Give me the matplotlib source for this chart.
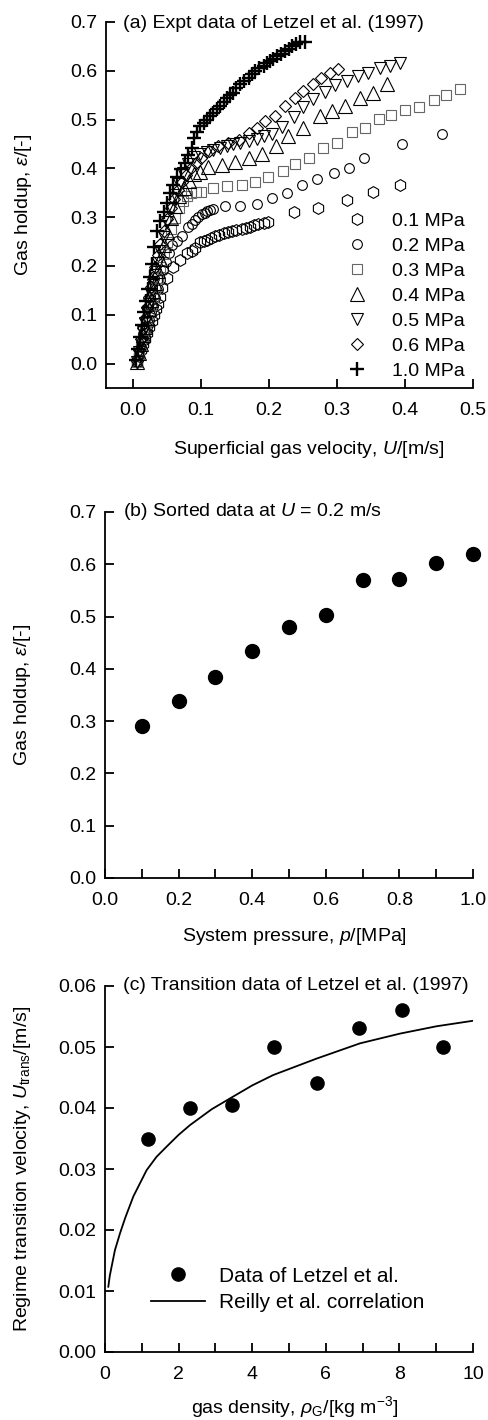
import matplotlib
matplotlib.use('Agg')
import matplotlib.pyplot as plt
from matplotlib.ticker import MultipleLocator, FormatStrFormatter

plt.rcParams['font.family'] = ['Liberation Sans', 'DejaVu Sans']
plt.rcParams['mathtext.fontset'] = 'custom'
plt.rcParams['mathtext.rm'] = 'Liberation Sans'
plt.rcParams['mathtext.it'] = 'Liberation Sans:italic'
plt.rcParams['font.size'] = 14

# (a) gas holdup vs superficial gas velocity, Letzel et al. (1997)
U_01 = [0.006, 0.009, 0.012, 0.015, 0.018, 0.021, 0.024, 0.027, 0.030, 0.033, 0.036, 0.039, 0.042,
        0.0496, 0.059, 0.069, 0.079, 0.086, 0.091, 0.0985, 0.104, 0.108, 0.115,
        0.121, 0.127, 0.133, 0.139, 0.145, 0.152, 0.160, 0.166, 0.172, 0.178,
        0.184, 0.192, 0.199, 0.236, 0.272, 0.314, 0.353, 0.393]
eps_01 = [0.004, 0.016, 0.028, 0.040, 0.051, 0.063, 0.075, 0.087, 0.099, 0.111, 0.123, 0.136, 0.154,
          0.176, 0.198, 0.213, 0.226, 0.231, 0.236, 0.250, 0.252, 0.254, 0.258,
          0.261, 0.264, 0.267, 0.270, 0.272, 0.273, 0.275, 0.278, 0.280, 0.283,
          0.286, 0.288, 0.291, 0.311, 0.318, 0.335, 0.352, 0.366]

U_02 = [0.005, 0.008, 0.011, 0.014, 0.017, 0.020, 0.023, 0.026, 0.029, 0.032, 0.036, 0.040, 0.044, 0.048, 0.052, 0.057,
        0.064, 0.072, 0.081, 0.086, 0.091, 0.096, 0.101, 0.105, 0.109, 0.113,
        0.117, 0.135, 0.157, 0.182, 0.204, 0.226, 0.248, 0.270, 0.295, 0.317,
        0.340, 0.396, 0.454]
eps_02 = [0.004, 0.018, 0.033, 0.047, 0.062, 0.076, 0.090, 0.105, 0.119, 0.134, 0.153, 0.172, 0.191, 0.209, 0.226, 0.243,
          0.252, 0.262, 0.280, 0.287, 0.294, 0.300, 0.306, 0.309, 0.312, 0.315,
          0.317, 0.322, 0.323, 0.328, 0.339, 0.350, 0.366, 0.378, 0.390, 0.401,
          0.422, 0.450, 0.471]

U_03 = [0.005, 0.008, 0.011, 0.014, 0.017, 0.020, 0.023, 0.026, 0.029, 0.032,
        0.036, 0.040, 0.045, 0.050, 0.055, 0.061, 0.067, 0.073, 0.079, 0.085,
        0.092, 0.100, 0.118, 0.138, 0.160, 0.179, 0.199, 0.220, 0.238, 0.259, 0.280,
        0.300, 0.322, 0.341, 0.361, 0.380, 0.400, 0.420, 0.442, 0.461, 0.481]
eps_03 = [0.004, 0.020, 0.037, 0.054, 0.070, 0.087, 0.103, 0.120, 0.136, 0.153,
          0.175, 0.197, 0.224, 0.250, 0.275, 0.298, 0.318, 0.333, 0.343, 0.349,
          0.351, 0.352, 0.359, 0.363, 0.366, 0.373, 0.383, 0.394, 0.409, 0.421, 0.442,
          0.452, 0.474, 0.483, 0.501, 0.510, 0.519, 0.526, 0.541, 0.551, 0.563]

U_04 = [0.005, 0.008, 0.011, 0.014, 0.017, 0.020, 0.023, 0.026, 0.029, 0.032,
        0.036, 0.040, 0.045, 0.050, 0.056, 0.062, 0.068, 0.075, 0.082, 0.090,
        0.098, 0.110, 0.130, 0.150, 0.170, 0.190, 0.210, 0.228, 0.250, 0.275,
        0.292, 0.312, 0.334, 0.353, 0.373]
eps_04 = [0.004, 0.022, 0.040, 0.058, 0.076, 0.094, 0.112, 0.130, 0.148, 0.166,
          0.190, 0.214, 0.243, 0.270, 0.298, 0.322, 0.343, 0.360, 0.375, 0.388,
          0.393, 0.402, 0.407, 0.414, 0.421, 0.430, 0.445, 0.467, 0.483, 0.507,
          0.517, 0.528, 0.545, 0.555, 0.572]

U_05 = [0.005, 0.008, 0.011, 0.014, 0.017, 0.020, 0.023, 0.026, 0.029, 0.032,
        0.036, 0.040, 0.045, 0.050, 0.055, 0.061, 0.067, 0.074, 0.081, 0.089,
        0.0985, 0.108, 0.118, 0.128, 0.138, 0.147, 0.157, 0.170, 0.182, 0.193,
        0.204, 0.219, 0.236, 0.250, 0.265, 0.282, 0.297, 0.314, 0.331, 0.346,
        0.363, 0.378, 0.393]
eps_05 = [0.004, 0.024, 0.044, 0.064, 0.083, 0.103, 0.122, 0.142, 0.161, 0.181,
          0.206, 0.231, 0.260, 0.290, 0.318, 0.345, 0.368, 0.390, 0.408, 0.424,
          0.430, 0.434, 0.438, 0.441, 0.445, 0.449, 0.453, 0.456, 0.460, 0.466,
          0.470, 0.485, 0.505, 0.525, 0.542, 0.556, 0.570, 0.579, 0.589, 0.596,
          0.606, 0.610, 0.617]

U_06 = [0.005, 0.008, 0.011, 0.014, 0.017, 0.020, 0.023, 0.026, 0.029, 0.032,
        0.036, 0.040, 0.045, 0.050, 0.055, 0.060, 0.066, 0.072, 0.078, 0.085, 0.092,
        0.100, 0.112, 0.125, 0.140, 0.155, 0.170, 0.182, 0.194, 0.209, 0.224,
        0.238, 0.250, 0.265, 0.277, 0.290, 0.302]
eps_06 = [0.005, 0.027, 0.050, 0.072, 0.094, 0.115, 0.136, 0.157, 0.178, 0.198,
          0.222, 0.246, 0.272, 0.296, 0.318, 0.338, 0.356, 0.372, 0.386, 0.400, 0.412,
          0.422, 0.435, 0.445, 0.452, 0.459, 0.472, 0.483, 0.497, 0.507, 0.528,
          0.545, 0.558, 0.572, 0.586, 0.595, 0.603]

U_10 = [0.004, 0.007, 0.010, 0.013, 0.016, 0.019, 0.022, 0.025, 0.028, 0.031,
        0.035, 0.040, 0.045, 0.050, 0.054, 0.059, 0.064, 0.070, 0.076, 0.081,
        0.086, 0.089, 0.094, 0.099, 0.104, 0.108, 0.113, 0.118, 0.123, 0.128,
        0.133, 0.138, 0.143, 0.147, 0.152, 0.157, 0.163, 0.170, 0.175, 0.179,
        0.185, 0.192, 0.197, 0.201, 0.206, 0.211, 0.218, 0.224, 0.229, 0.233,
        0.240, 0.246, 0.253]
eps_10 = [0.008, 0.030, 0.055, 0.080, 0.105, 0.128, 0.152, 0.178, 0.205, 0.238,
          0.272, 0.292, 0.310, 0.330, 0.349, 0.366, 0.383, 0.398, 0.411, 0.427,
          0.442, 0.462, 0.474, 0.486, 0.493, 0.500, 0.507, 0.514, 0.521, 0.527,
          0.536, 0.545, 0.550, 0.555, 0.564, 0.572, 0.579, 0.586, 0.593, 0.599,
          0.605, 0.610, 0.615, 0.620, 0.625, 0.630, 0.635, 0.640, 0.645, 0.651,
          0.655, 0.658, 0.659]

# (b) sorted at U = 0.2 m/s
p_b = [0.1, 0.2, 0.3, 0.4, 0.5, 0.6, 0.7, 0.8, 0.9, 1.0]
eps_b = [0.291, 0.338, 0.384, 0.435, 0.480, 0.503, 0.570, 0.572, 0.602, 0.620]

# (c) regime transition
rho_data = [1.16, 2.31, 3.46, 4.60, 5.75, 6.89, 8.06, 9.19]
u_trans = [0.0350, 0.0400, 0.0405, 0.0500, 0.0441, 0.0531, 0.0561, 0.0500]
rho_curve = [0.09, 0.13, 0.18, 0.27, 0.41, 0.55, 0.77, 1.13, 1.40, 1.68, 2.00, 2.31, 2.90,
             3.49, 4.00, 4.57, 5.75, 6.93, 8.02, 9.01, 10.0]
u_curve = [0.0107, 0.0125, 0.0140, 0.0167, 0.0195, 0.0220, 0.0255, 0.0298, 0.0320, 0.0337,
           0.0356, 0.0372, 0.0398, 0.0419, 0.0437, 0.0454, 0.0481, 0.0506, 0.0522, 0.0534, 0.0543]

W, H = 488, 1420
fig = plt.figure(figsize=(W / 100, H / 100), dpi=100)


def add_axes(left, top, right, bottom):
    return fig.add_axes([left / W, 1 - bottom / H, (right - left) / W, (bottom - top) / H])


def style(ax):
    for s in ['top', 'right']:
        ax.spines[s].set_visible(False)
    for s in ['left', 'bottom']:
        ax.spines[s].set_linewidth(1.3)
    ax.tick_params(which='both', direction='in', length=6.5, width=1.3, labelsize=14)
    ax.tick_params(axis='x', which='both', pad=10)
    ax.tick_params(axis='y', which='both', pad=6)


# ---- panel (a)
ax = add_axes(106, 22, 473, 388)
style(ax)
series = [
    (U_01, eps_01, 'h', 8.5, 'k', '0.1 MPa'),
    (U_02, eps_02, 'o', 7.0, 'k', '0.2 MPa'),
    (U_03, eps_03, 's', 6.5, '0.4', '0.3 MPa'),
    (U_04, eps_04, '^', 10.0, 'k', '0.4 MPa'),
    (U_05, eps_05, 'v', 8.0, 'k', '0.5 MPa'),
    (U_06, eps_06, 'D', 6.5, 'k', '0.6 MPa'),
    (U_10, eps_10, '+', 10.5, 'k', '1.0 MPa'),
]
for u, e, m, ms, c, lab in series:
    mew = 1.7 if m == '+' else 0.8
    ax.plot(u, e, linestyle='none', marker=m, ms=ms, mfc='none', mec=c, mew=mew, label=lab)
ax.set_xlim(-0.04, 0.5)
ax.set_ylim(-0.05, 0.7)
ax.xaxis.set_major_locator(MultipleLocator(0.1))
ax.yaxis.set_major_locator(MultipleLocator(0.1))
ax.xaxis.set_major_formatter(FormatStrFormatter('%.1f'))
ax.yaxis.set_major_formatter(FormatStrFormatter('%.1f'))
ax.set_xlabel('Superficial gas velocity, $U$/[m/s]', fontsize=14)
ax.set_ylabel(r'Gas holdup, $\varepsilon$/[-]', fontsize=14)
ax.xaxis.set_label_coords(0.553, -0.14)
ax.yaxis.set_label_coords(-0.195, 0.5)
ax.text(0.046, 0.983, '(a) Expt data of Letzel et al. (1997)', transform=ax.transAxes,
        fontsize=14, va='baseline', ha='left')
ax.legend(loc='lower right', bbox_to_anchor=(1.0, 0.0), frameon=False, fontsize=14,
          handlelength=1.0, handletextpad=1.3, labelspacing=0.38, borderaxespad=0.0)

# ---- panel (b)
ax = add_axes(105, 512, 473, 878)
style(ax)
ax.plot(p_b, eps_b, linestyle='none', marker='o', ms=10, color='k', clip_on=False)
ax.set_xlim(0, 1.0)
ax.set_ylim(0, 0.7)
ax.xaxis.set_major_locator(MultipleLocator(0.2))
ax.xaxis.set_minor_locator(MultipleLocator(0.1))
ax.yaxis.set_major_locator(MultipleLocator(0.1))
ax.xaxis.set_major_formatter(FormatStrFormatter('%.1f'))
ax.yaxis.set_major_formatter(FormatStrFormatter('%.1f'))
ax.set_xlabel('System pressure, $p$/[MPa]', fontsize=14)
ax.set_ylabel(r'Gas holdup, $\varepsilon$/[-]', fontsize=14)
ax.xaxis.set_label_coords(0.516, -0.13)
ax.yaxis.set_label_coords(-0.195, 0.5)
ax.text(0.049, 0.99, '(b) Sorted data at $U$ = 0.2 m/s', transform=ax.transAxes,
        fontsize=14, va='baseline', ha='left')

# ---- panel (c)
ax = add_axes(105, 986, 473, 1352)
style(ax)
ax.plot(rho_data, u_trans, linestyle='none', marker='o', ms=9.5, color='k', clip_on=False,
        label='Data of Letzel et al.')
ax.plot(rho_curve, u_curve, color='k', lw=1.3, label='Reilly et al. correlation')
ax.set_xlim(0, 10)
ax.set_ylim(0, 0.06)
ax.xaxis.set_major_locator(MultipleLocator(2))
ax.xaxis.set_minor_locator(MultipleLocator(1))
ax.yaxis.set_major_locator(MultipleLocator(0.01))
ax.yaxis.set_major_formatter(FormatStrFormatter('%.2f'))
ax.set_xlabel(r'gas density, $\rho_{\mathrm{G}}$/[kg m$^{-3}$]', fontsize=14)
ax.set_ylabel(r'Regime transition velocity, $U_{\mathrm{trans}}$/[m/s]', fontsize=14)
ax.xaxis.set_label_coords(0.516, -0.115)
ax.yaxis.set_label_coords(-0.195, 0.5)
ax.text(0.049, 0.988, '(c) Transition data of Letzel et al. (1997)', transform=ax.transAxes,
        fontsize=14, va='baseline', ha='left')
ax.legend(loc='lower left', bbox_to_anchor=(0.09, 0.075), frameon=False, fontsize=15,
          handlelength=2.6, handletextpad=0.7, labelspacing=0.35, borderaxespad=0.2)

fig.savefig('out.png', dpi=100)
